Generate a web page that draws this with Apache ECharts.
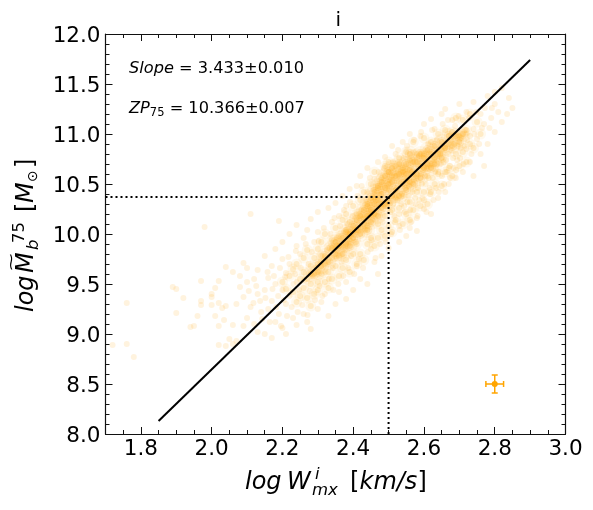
<!DOCTYPE html>
<html><head><meta charset="utf-8">
<script src="https://cdn.jsdelivr.net/npm/echarts@6/dist/echarts.min.js"></script>
<style>html,body{margin:0;padding:0;background:#fff}#c{width:593px;height:510px}</style>
</head><body><div id="c"></div>
<script>
const xMajor=[1.8,2.0,2.2,2.4,2.6,2.8,3.0];
const xMinor=[1.75,1.85,1.9,1.95,2.05,2.1,2.15,2.25,2.3,2.35,2.45,2.5,2.55,2.65,2.7,2.75,2.85,2.9,2.95];
const yMajor=[8.0,8.5,9.0,9.5,10.0,10.5,11.0,11.5,12.0];
const yMinor=[8.1,8.2,8.3,8.4,8.6,8.7,8.8,8.9,9.1,9.2,9.3,9.4,9.6,9.7,9.8,9.9,10.1,10.2,10.3,10.4,10.6,10.7,10.8,10.9,11.1,11.2,11.3,11.4,11.6,11.7,11.8,11.9];
const fitLine=[[1.85,8.13],[2.9,11.74]];
const zpH=[[1.7,10.37],[2.5,10.37]];
const zpV=[[2.5,10.37],[2.5,8.0]];
const errPoint=[[2.8,8.5,0.025,0.09]];
const sparsePts=[[1.72,8.89],[1.76,9.31],[1.76,8.9],[1.78,8.77],[1.89,9.47],[1.9,9.45],[1.92,9.36],[1.9,9.21],[1.96,9.18],[1.94,9.07],[1.95,9.08],[1.97,9.53],[1.97,9.33],[1.97,9.29],[2.0,9.4],[2.0,9.37],[2.01,9.46],[2.02,9.53],[2.04,9.67],[2.02,9.31],[2.0,9.29],[2.01,9.18],[2.03,9.26],[2.02,9.08],[2.04,9.28],[2.035,9.14],[2.06,9.09],[2.05,8.95],[2.02,8.89],[2.04,8.88],[2.07,8.93],[2.06,8.9],[1.98,10.07],[2.11,10.2],[2.19,10.13],
[2.06,9.62],[2.08,9.58],[2.09,9.71],[2.1,9.66],[2.08,9.47],[2.1,9.52],[2.12,9.55],[2.07,9.3],[2.09,9.37],[2.11,9.27],[2.13,9.4],[2.1,9.16],[2.12,9.1],[2.09,9.08],[2.14,9.22],[2.13,9.02],[2.15,9.0],[2.17,8.96],[2.13,9.64],[2.15,9.78],[2.16,9.56],[2.17,9.68],[2.15,9.44],[2.18,9.5],[2.17,9.33],[2.16,9.25],[2.19,9.2],[2.18,9.12],[2.2,9.06],[2.21,9.0],[2.18,9.85],[2.2,9.92],[2.2,9.75],[2.21,9.61],[2.22,9.7],[2.2,9.44],[2.22,9.38],[2.21,9.3],[2.23,9.16],[2.24,9.09],[2.22,10.0],[2.24,10.09],[2.24,9.88],[2.25,9.8],[2.26,9.96],[2.24,9.52],[2.26,9.2],[2.27,9.12],[2.28,9.05],[2.28,10.15],[2.3,10.02],[2.27,10.04],[2.29,9.92],[2.3,9.25],[2.31,9.32],[2.33,9.18],[2.32,9.4],[2.3,10.22],[2.33,10.26],[2.34,10.12],[2.36,10.18],[2.35,10.31],[2.35,9.3],[2.36,9.42],[2.38,9.35],[2.38,9.52],[2.37,10.38],[2.39,10.45],[2.38,10.28],[2.4,9.44],[2.42,9.55],[2.41,9.68],[2.44,9.5],[2.41,10.48],[2.42,10.58],[2.44,10.42],[2.44,10.66],[2.46,10.55],[2.46,9.72],[2.47,9.6],[2.45,9.85],[2.48,9.78],[2.5,9.86],[2.47,10.72],[2.49,10.77],[2.5,10.62],[2.52,10.8],[2.51,10.88],[2.53,9.92],[2.55,9.98],[2.53,10.08],[2.56,10.06],[2.54,10.92],[2.56,11.0],[2.57,10.82],[2.58,10.16],[2.6,10.25],[2.58,10.03],[2.6,11.1],[2.59,10.98],[2.62,11.15],[2.62,10.2],[2.64,10.36],[2.66,10.42],[2.63,11.05],[2.65,11.2],[2.67,10.5],[2.66,11.25],[2.68,11.14],[2.69,10.56],[2.71,10.62],[2.7,11.3],[2.72,11.22],[2.73,10.72],[2.74,10.58],[2.74,11.32],[2.76,11.2],[2.76,10.8],[2.77,10.68],[2.78,10.9],[2.78,11.38],[2.8,11.3],[2.8,11.02],[2.82,11.46],[2.82,11.12],[2.84,11.36],[2.85,11.26],[2.74,11.05],[2.77,11.1],[2.79,11.16],[2.81,11.22],[2.75,10.95],[2.72,10.85]];
const extraPts=[[2.105,9.43],[2.118,9.31],[2.126,9.48],[2.137,9.33],[2.143,9.15],[2.152,9.36],[2.158,9.62],[2.164,9.12],[2.172,9.45],[2.176,9.58],[2.183,9.27],[2.188,9.38],[2.193,9.66],[2.196,9.08],[2.204,9.34],[2.208,9.57],[2.213,9.18],[2.217,9.77],[2.226,9.27],[2.231,9.5],[2.236,9.6],[2.238,9.83],[2.243,9.22],[2.247,9.44],[2.252,9.66],[2.256,9.29],[2.262,9.54],[2.266,9.9],[2.271,9.19],[2.274,9.7],[2.277,9.43],[2.283,9.82],[2.286,9.58],[2.292,9.34],[2.296,9.66],[2.302,9.93],[2.305,9.48],[2.308,9.72],[2.313,9.38],[2.317,10.06],[2.322,9.62],[2.326,9.84],[2.331,9.55],[2.336,10.0],[2.342,9.66],[2.344,9.44],[2.347,10.16],[2.352,9.76],[2.354,9.96],[2.358,9.5],[2.363,10.08],[2.367,9.72],[2.372,9.58],[2.374,10.24],[2.378,9.84],[2.383,10.1],[2.386,9.66],[2.391,10.32],[2.394,9.78],[2.398,10.18],[2.403,9.6],[2.407,9.92],[2.412,10.38],[2.416,9.75],[2.421,10.24],[2.424,10.48],[2.428,9.66],[2.433,10.04],[2.436,10.34],[2.441,9.82],[2.447,10.56],[2.452,9.94],[2.455,10.14],[2.458,10.44],[2.463,9.76],[2.466,10.26],[2.472,10.62],[2.476,9.9],[2.478,10.4],[2.483,10.12],[2.487,10.66],[2.492,9.92],[2.496,10.28],[2.503,10.54],[2.507,10.0],[2.512,10.72],[2.516,10.18],[2.523,10.46],[2.527,10.84],[2.532,10.04],[2.536,10.3],[2.542,10.76],[2.546,10.22],[2.552,10.88],[2.557,10.38],[2.563,10.12],[2.566,10.62],[2.572,10.94],[2.576,10.3],[2.582,10.18],[2.586,10.78],[2.592,11.02],[2.596,10.36],[2.603,10.58],[2.607,10.22],[2.612,10.9],[2.616,10.46],[2.623,11.04],[2.627,10.34],[2.632,10.62],[2.636,10.94],[2.642,10.42],[2.648,10.7],[2.653,11.1],[2.657,10.5],[2.662,10.74],[2.668,11.14],[2.674,10.56],[2.678,10.84],[2.684,10.66],[2.688,11.08],[2.694,10.74],[2.698,11.18],[2.704,10.86],[2.712,10.7],[2.716,11.04],[2.722,10.94],[2.728,11.16],[2.734,10.8],[2.742,11.0],[2.748,11.22],[2.756,10.9],[2.764,11.06],[2.772,11.26],[2.785,11.06],[2.792,11.26],[2.835,11.2],[2.8,11.42]];
const lowerPts=[[2.505,10.22],[2.513,10.3],[2.518,10.12],[2.525,10.34],[2.53,10.2],[2.538,10.4],[2.544,10.28],[2.548,10.46],[2.553,10.32],[2.558,10.48],[2.561,10.24],[2.568,10.42],[2.571,10.54],[2.575,10.36],[2.579,10.56],[2.583,10.46],[2.587,10.34],[2.591,10.6],[2.594,10.5],[2.598,10.64],[2.601,10.34],[2.605,10.5],[2.609,10.66],[2.613,10.56],[2.618,10.4],[2.621,10.7],[2.625,10.56],[2.629,10.74],[2.634,10.46],[2.638,10.7],[2.641,10.62],[2.646,10.8],[2.651,10.58],[2.655,10.72],[2.659,10.86],[2.664,10.62],[2.669,10.8],[2.673,10.68],[2.677,10.94],[2.682,10.76],[2.686,10.9],[2.691,10.64],[2.696,10.88],[2.702,10.76],[2.706,10.96],[2.714,10.88],[2.72,11.0],[2.73,10.98]];
const midPts=[[2.2,9.52],[2.21,9.45],[2.22,9.58],[2.23,9.65],[2.23,9.42],[2.24,9.32],[2.24,9.7],[2.25,9.55],[2.25,9.38],[2.26,9.62],[2.26,9.76],[2.26,9.46],[2.27,9.55],[2.27,9.84],[2.27,9.36],[2.28,9.68],[2.28,9.28],[2.28,9.5],[2.29,9.76],[2.29,9.4],[2.29,9.6],[2.3,9.85],[2.3,9.7],[2.3,9.52],[2.3,9.44],[2.31,9.92],[2.31,9.6],[2.31,9.78],[2.32,9.52],[2.32,9.7],[2.32,10.0],[2.33,9.86],[2.33,9.62],[2.33,9.46],[2.34,9.94],[2.34,9.76],[2.34,9.55],[2.35,10.06],[2.35,9.68],[2.35,9.86],[2.36,9.58],[2.36,9.98],[2.36,9.78],[2.37,10.14],[2.37,9.66],[2.37,9.88],[2.38,10.04],[2.38,9.74],[2.38,10.2],[2.39,9.62],[2.39,9.94],[2.39,10.12],[2.4,9.8],[2.4,10.28],[2.4,10.02],[2.41,9.7],[2.41,10.2],[2.41,9.9],[2.42,10.34],[2.42,10.06],[2.42,9.8],[2.43,10.16],[2.43,9.74],[2.43,10.42],[2.44,9.9],[2.44,10.28],[2.44,10.08],[2.45,10.5],[2.45,9.96],[2.45,10.2],[2.46,10.36],[2.46,9.88],[2.46,10.62],[2.47,10.1],[2.47,10.46],[2.47,9.96],[2.48,10.3],[2.48,10.56],[2.48,10.04],[2.49,10.68],[2.49,10.18],[2.49,9.98],[2.5,10.44],[2.5,10.08],[2.5,10.72],[2.51,10.24],[2.51,10.58],[2.51,10.02],[2.52,10.36],[2.52,10.68],[2.52,10.14],[2.53,10.76],[2.53,10.26],[2.53,10.52],[2.54,10.1],[2.54,10.66],[2.54,10.38],[2.55,10.82],[2.55,10.2],[2.55,10.54],[2.56,10.32],[2.56,10.74],[2.56,10.14],[2.57,10.6],[2.57,10.24],[2.57,10.92],[2.58,10.42],[2.58,10.8],[2.59,10.28],[2.59,10.68],[2.6,10.96],[2.6,10.42],[2.6,10.8],[2.61,10.3],[2.61,10.58],[2.62,10.92],[2.62,10.42],[2.63,10.76],[2.63,10.5],[2.64,11.0],[2.64,10.6],[2.65,10.48],[2.65,10.84],[2.66,11.04],[2.66,10.62],[2.67,10.9],[2.67,10.66],[2.68,10.58],[2.68,11.02],[2.69,10.8],[2.69,11.16],[2.7,10.68],[2.7,10.98],[2.71,10.82],[2.71,11.14],[2.72,10.72],[2.72,11.04],[2.73,10.9],[2.73,11.2],[2.74,10.86],[2.75,11.12],[2.76,11.0]];
const corePts=[[2.28,9.6],[2.3,9.62],[2.31,9.68],[2.32,9.78],[2.33,9.72],[2.34,9.86],[2.35,9.8],[2.35,9.92],[2.36,9.88],[2.37,9.96],[2.37,9.8],[2.38,9.9],[2.38,10.02],[2.39,10.0],[2.39,9.88],[2.4,10.08],[2.4,9.96],[2.41,10.04],[2.41,10.14],[2.42,10.0],[2.42,10.18],[2.43,10.1],[2.43,10.24],[2.44,10.04],[2.44,10.18],[2.44,10.3],[2.45,10.12],[2.45,10.24],[2.45,10.36],[2.46,10.2],[2.46,10.3],[2.46,10.42],[2.47,10.18],[2.47,10.34],[2.47,10.48],[2.48,10.26],[2.48,10.4],[2.48,10.52],[2.49,10.3],[2.49,10.46],[2.49,10.58],[2.5,10.32],[2.5,10.5],[2.5,10.62],[2.51,10.38],[2.51,10.52],[2.51,10.66],[2.52,10.44],[2.52,10.58],[2.53,10.38],[2.53,10.6],[2.53,10.7],[2.54,10.5],[2.54,10.62],[2.55,10.44],[2.55,10.7],[2.55,10.6],[2.56,10.52],[2.56,10.64],[2.56,10.8],[2.57,10.5],[2.57,10.72],[2.58,10.6],[2.58,10.72],[2.59,10.56],[2.59,10.8],[2.6,10.66],[2.6,10.76],[2.61,10.7],[2.61,10.84],[2.62,10.66],[2.62,10.8],[2.63,10.88],[2.63,10.7],[2.64,10.8],[2.65,10.92],[2.65,10.76],[2.66,10.86],[2.67,10.98],[2.68,10.88],[2.69,10.98],[2.7,10.92],[2.71,11.0]];

const G={left:105.5,top:34,width:460,height:400};
const ORANGE='rgb(255,165,0)',BLACK='#000',FONT='"DejaVu Sans"';
function xAx(pos,vals,len,labels){return {type:'value',position:pos,min:1.7,max:3.0,
  axisLine:{show:vals===xMajor,lineStyle:{color:'#111',width:1.2}},splitLine:{show:false},minorTick:{show:false},
  axisTick:{show:true,inside:true,length:len,customValues:vals,lineStyle:{color:'#111',width:1}},
  axisLabel:labels?{show:true,customValues:xMajor,color:'#000',fontFamily:FONT,fontSize:21.5,margin:4,formatter:v=>v.toFixed(1)}:{show:false}};}
function yAx(pos,vals,len,labels){return {type:'value',position:pos,min:8,max:12,
  axisLine:{show:vals===yMajor,lineStyle:{color:'#111',width:1.2}},splitLine:{show:false},minorTick:{show:false},
  axisTick:{show:true,inside:true,length:len,customValues:vals,lineStyle:{color:'#111',width:1}},
  axisLabel:labels?{show:true,customValues:yMajor,color:'#000',fontFamily:FONT,fontSize:21.5,margin:5,formatter:v=>'{a|'+v.toFixed(1)+'}',rich:{a:{fontFamily:FONT,fontSize:21.5,color:'#000',padding:[5,0,0,0]}}}:{show:false}};}
function scat(d,a,size){return {type:'scatter',data:d,symbol:'circle',symbolSize:size||6,silent:true,large:false,itemStyle:{color:ORANGE,opacity:a,borderWidth:0},z:2,animation:false};}
function ln(d,type,w){return {type:'line',data:d,showSymbol:false,symbol:'none',silent:true,lineStyle:{color:BLACK,width:w,type:type},z:5,animation:false};}
const T=(x,y,text,size,italic,extra)=>Object.assign({type:'text',x:x,y:y,silent:true,style:{text:text,fontFamily:FONT,fontSize:size,fontStyle:italic?'italic':'normal',fill:'#000',textVerticalAlign:'middle'}},extra||{});
const R={rotation:Math.PI/2};

const chart=echarts.init(document.getElementById('c'),null,{renderer:'canvas'});
chart.setOption({animation:false,backgroundColor:'#fff',
 title:{text:'i',left:330.5,top:6,textStyle:{fontFamily:FONT,fontSize:20,fontWeight:'normal',color:'#000'}},
 grid:G,
 xAxis:[xAx('bottom',xMajor,7,true),xAx('bottom',xMinor,4,false),xAx('top',xMajor,7,false),xAx('top',xMinor,4,false)],
 yAxis:[yAx('left',yMajor,7,true),yAx('left',yMinor,4,false),yAx('right',yMajor,7,false),yAx('right',yMinor,4,false)],
 series:[scat(corePts,0.08,16),scat(midPts,0.07,11),scat(corePts,0.14,10),
  scat(sparsePts,0.13),scat(extraPts,0.13),scat(lowerPts,0.15),scat(midPts,0.17),scat(corePts,0.24),
  ln(zpH,[2,3],2),ln(zpV,[2,3],2),ln(fitLine,'solid',2),
  {type:'custom',data:errPoint,silent:true,z:6,animation:false,clip:false,
   renderItem:(p,api)=>{const x=api.value(0),y=api.value(1),ex=api.value(2),ey=api.value(3);
    const c=api.coord([x,y]),l=api.coord([x-ex,y]),r=api.coord([x+ex,y]),t=api.coord([x,y+ey]),b=api.coord([x,y-ey]);
    const s={stroke:ORANGE,lineWidth:1.5,fill:null};const cap=3;
    const L=(a,b2,c2,d)=>({type:'line',shape:{x1:a,y1:b2,x2:c2,y2:d},style:s});
    return {type:'group',children:[L(l[0],l[1],r[0],r[1]),L(t[0],t[1],b[0],b[1]),L(l[0],l[1]-cap,l[0],l[1]+cap),L(r[0],r[1]-cap,r[0],r[1]+cap),L(t[0]-cap,t[1],t[0]+cap,t[1]),L(b[0]-cap,b[1],b[0]+cap,b[1]),
     {type:'circle',shape:{cx:c[0],cy:c[1],r:3},style:{fill:ORANGE}}]};},
   encode:{x:0,y:1}}
 ],
 graphic:[
  {type:'text',x:129,y:69,silent:true,style:{rich:{i:{fontFamily:FONT,fontStyle:'italic',fontSize:16.2,fill:'#000'},n:{fontFamily:FONT,fontSize:16.2,fill:'#000'}},text:'{i|Slope}{n| = 3.433±0.010}',textVerticalAlign:'middle'}},
  {type:'text',x:129,y:109,silent:true,style:{rich:{i:{fontFamily:FONT,fontStyle:'italic',fontSize:16.2,fill:'#000'},n:{fontFamily:FONT,fontSize:16.2,fill:'#000'},s:{fontFamily:FONT,fontStyle:'normal',fontSize:11.5,fill:'#000',padding:[8,0,0,0]}},text:'{i|ZP}{s|75}{n| = 10.366±0.007}',textVerticalAlign:'middle'}},
  T(245,483,'log',24,true),
  T(287,483,'W',24,true),
  T(315,475,'i',16.5,true),
  T(312,491,'mx',16.5,true),
  T(350,483,'[',24,false),
  T(359.5,483,'km/s',24,true),
  T(417.5,483,']',24,false),
  T(27,312,'log',24,true,R),
  T(27,273,'M',24,true,R),
  {type:'text',x:12,y:262,silent:true,rotation:Math.PI/2,scaleX:1.7,style:{text:'~',fontFamily:FONT,fontSize:14,fill:'#000',textAlign:'center',textVerticalAlign:'middle'}},
  T(34,250,'b',16.5,true,R),
  T(20,243,'75',16.5,false,R),
  T(27,212,'[',24,false,R),
  T(27,203,'M',24,true,R),
  T(33,182,'⊙',14,false,R),
  T(27,168,']',24,false,R)
 ]
});
</script></body></html>
